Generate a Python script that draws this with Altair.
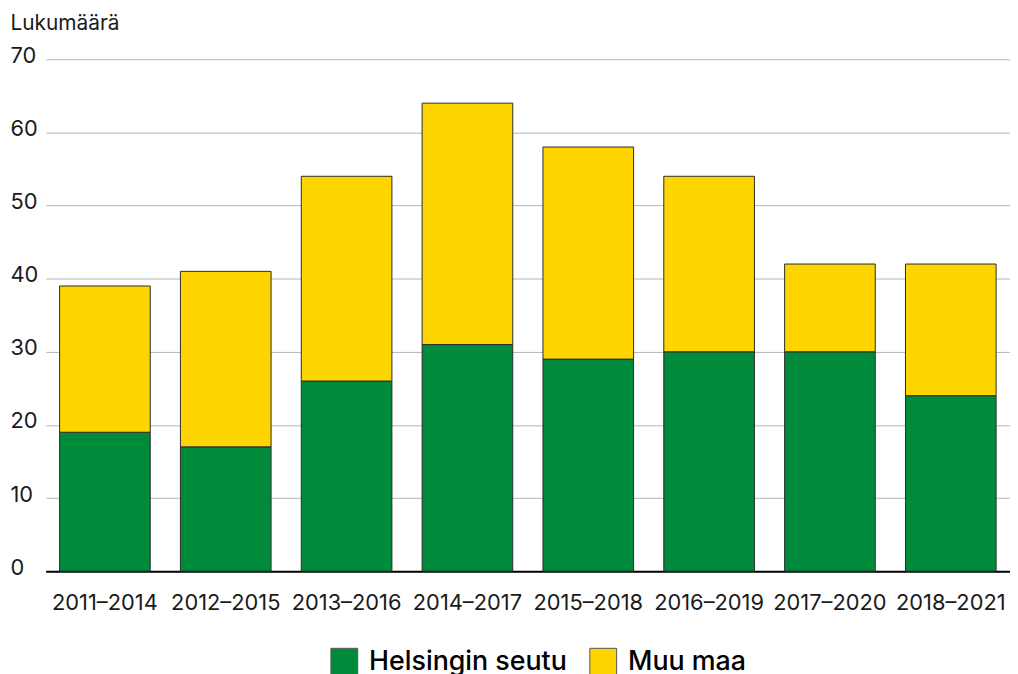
import altair as alt
import pandas as pd

periods = ["2011–2014", "2012–2015", "2013–2016", "2014–2017",
           "2015–2018", "2016–2019", "2017–2020", "2018–2021"]
helsinki = [19, 17, 26, 31, 29, 30, 30, 24]
muu = [20, 24, 28, 33, 29, 24, 12, 18]
series = ["Helsingin seutu", "Muu maa"]
colors = ["#008a3b", "#ffd500"]

rows = []
for p, h, m in zip(periods, helsinki, muu):
    rows.append({"period": p, "series": series[0], "value": h, "ord": 0})
    rows.append({"period": p, "series": series[1], "value": m, "ord": 1})
df = pd.DataFrame(rows)

FONT = "Inter"

chart = alt.Chart(df).mark_bar(stroke="#2a2a2a", strokeWidth=1).encode(
    x=alt.X("period:N", sort=periods, title=None,
            scale=alt.Scale(paddingInner=0.25, paddingOuter=0.115),
            axis=alt.Axis(labelAngle=0, ticks=False, labelPadding=22,
                          labelFontSize=22, labelColor="#1a1a1a", labelFont=FONT,
                          domainColor="#000000", domainWidth=2, grid=False)),
    y=alt.Y("value:Q", stack="zero", title="Lukumäärä",
            scale=alt.Scale(domain=[0, 70]),
            axis=alt.Axis(values=[0, 10, 20, 30, 40, 50, 60, 70], domain=False, ticks=False,
                          labelAlign="left", labelPadding=36, labelOffset=-4,
                          labelFontSize=22, labelColor="#1a1a1a", labelFont=FONT,
                          gridColor="#b5b5b5", gridWidth=1,
                          titleAngle=0, titleAlign="left", titleBaseline="middle",
                          titleX=-36, titleY=-36, titleFontSize=21, titleFontWeight="normal",
                          titleColor="#1a1a1a", titleFont=FONT)),
    color=alt.Color("series:N", sort=series,
                    scale=alt.Scale(domain=series, range=colors),
                    legend=alt.Legend(title=None, orient="none", direction="horizontal",
                                      legendX=287, legendY=593,
                                      symbolType="square", symbolSize=729,
                                      symbolStrokeColor="#555555", symbolStrokeWidth=1,
                                      symbolOpacity=1, labelLimit=0,
                                      labelFontSize=27, labelFontWeight=500, labelFont=FONT,
                                      labelColor="#000000", columnPadding=20,
                                      labelOffset=11)),
    order=alt.Order("ord:Q", sort="ascending"),
).properties(
    width=972, height=516, padding={"left": 2, "top": 2, "right": 0, "bottom": 0}
).configure_view(stroke=None)

chart.save("out.html", embed_options={"renderer": "svg", "actions": False})
